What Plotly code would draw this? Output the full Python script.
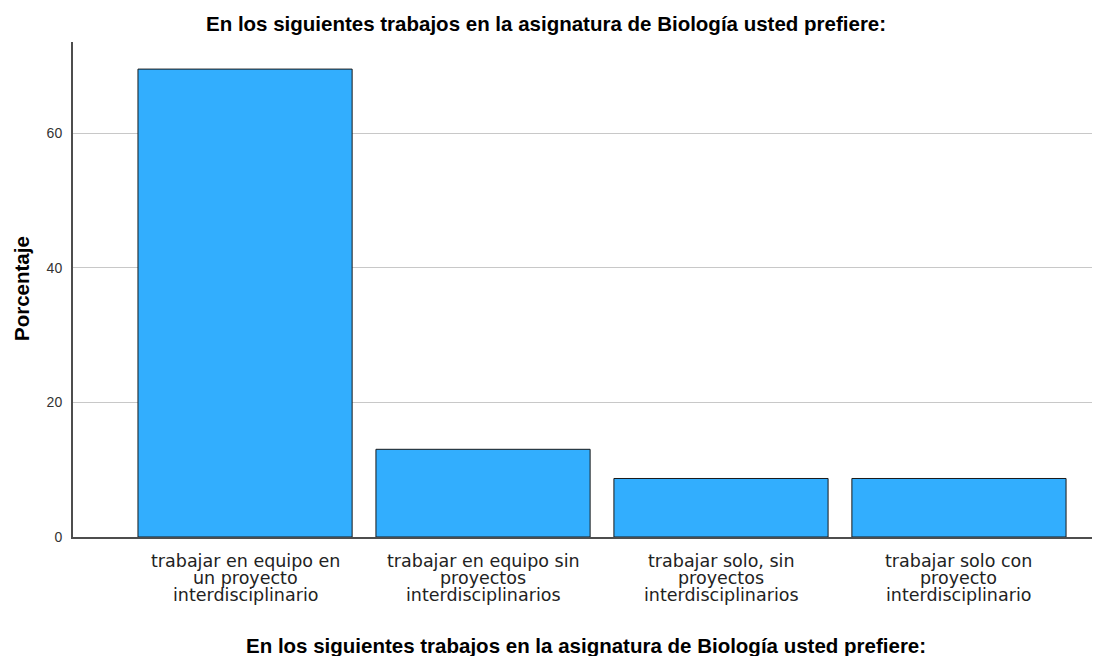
import plotly.graph_objects as go

categories = [
    "trabajar en equipo en\nun proyecto\ninterdisciplinario",
    "trabajar en equipo sin\nproyectos\ninterdisciplinarios",
    "trabajar solo, sin\nproyectos\ninterdisciplinarios",
    "trabajar solo con\nproyecto\ninterdisciplinario",
]
porcentaje = [69.57, 13.04, 8.70, 8.70]
y_ticks = [0, 20, 40, 60]

title_text = "En los siguientes trabajos en la asignatura de Biología usted prefiere:"
y_title = "Porcentaje"

x_pos = list(range(len(categories)))

fig = go.Figure()
fig.add_trace(go.Bar(
    x=x_pos, y=porcentaje, width=0.9,
    marker=dict(color="#32AEFE", line=dict(color="#1a1a1a", width=1)),
    hoverinfo="skip",
))

annotations = []
line_shifts = [-24, -41, -58]
for i, cat in enumerate(categories):
    for j, line in enumerate(cat.split("\n")):
        annotations.append(dict(
            x=i, xref="x", y=0, yref="paper", yshift=line_shifts[j],
            text=line, showarrow=False, xanchor="center", yanchor="middle",
            font=dict(family="DejaVu Sans", size=17.5, color="#222222"),
        ))

title_font = dict(family="Liberation Sans, Arial", size=20.5, color="#000000", weight="bold")
annotations.append(dict(
    x=0.1285, xref="paper", y=1.0364, yref="paper", text=title_text, showarrow=False,
    xanchor="left", yanchor="middle", font=title_font,
))
annotations.append(dict(
    x=0.1678, xref="paper", y=-0.2202, yref="paper", text=title_text, showarrow=False,
    xanchor="left", yanchor="middle", font=title_font,
))
annotations.append(dict(
    x=-0.051, xref="paper", y=0.501, yref="paper", text=y_title, showarrow=False,
    xanchor="center", yanchor="middle", textangle=-90, font=title_font,
))

fig.update_layout(
    width=1120, height=656,
    margin=dict(l=65, r=36, t=34, b=127),
    paper_bgcolor="white", plot_bgcolor="white",
    showlegend=False,
    annotations=annotations,
    xaxis=dict(
        range=[-0.723, 3.559], showticklabels=False, showgrid=False, zeroline=False,
        showline=True, linecolor="#4d4d4d", linewidth=2, ticks="", fixedrange=True,
    ),
    yaxis=dict(
        range=[0, 73.6], tickvals=y_ticks, ticktext=[str(v) for v in y_ticks],
        showgrid=True, gridcolor="#c8c8c8", gridwidth=1, zeroline=False,
        showline=True, linecolor="#4d4d4d", linewidth=2, ticks="",
        tickfont=dict(family="Liberation Sans, Arial", size=14, color="#333333"),
        ticklabelstandoff=6,
    ),
)

fig.write_html("out.html")
